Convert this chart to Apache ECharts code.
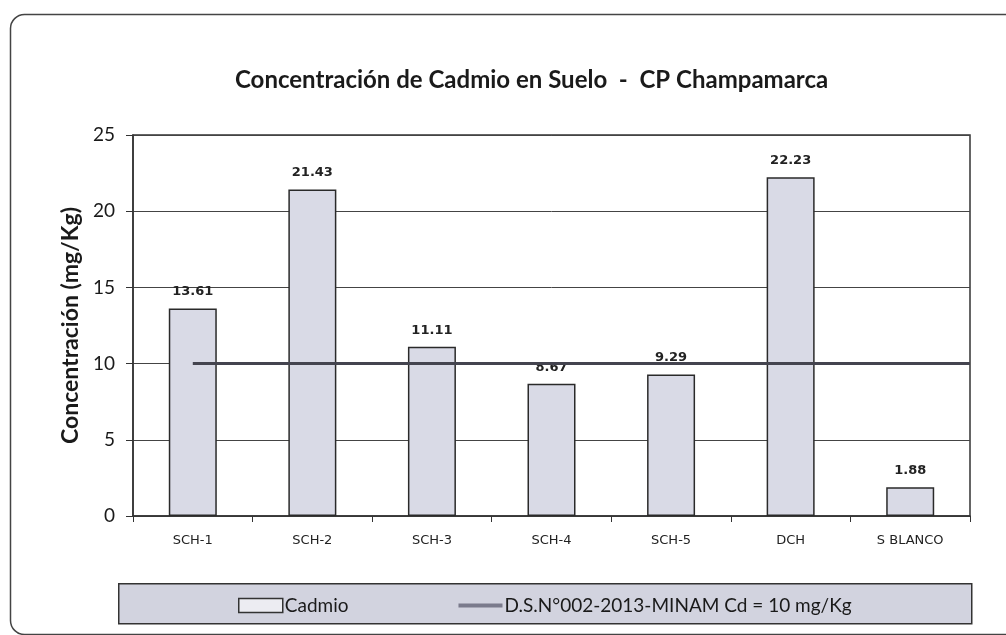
<!DOCTYPE html>
<html>
<head>
<meta charset="utf-8">
<script src="https://cdn.jsdelivr.net/npm/echarts@6/dist/echarts.min.js"></script>
<style>
  html, body { margin: 0; padding: 0; background: #fff; }
  #chart { width: 1006px; height: 635px; }
</style>
</head>
<body>
<div id="chart"></div>
<script>
// puntos de muestreo
const categories = ["SCH-1", "SCH-2", "SCH-3", "SCH-4", "SCH-5", "DCH", "S BLANCO"];
// concentración de cadmio (mg/Kg)
const cadmio = [13.61, 21.43, 11.11, 8.67, 9.29, 22.23, 1.88];
// límite D.S. N°002-2013-MINAM
const limite = 10;
const limiteTramo = [0.5, 7];
const yTicks = [0, 25, 5];

const chart = echarts.init(document.getElementById("chart"));
const option = {
  backgroundColor: "#fff",
  animation: false,
  title: {
    text: "Concentración de Cadmio en Suelo  -  CP Champamarca",
    left: 230,
    top: 63,
    textStyle: { fontFamily: "Lato", fontWeight: "bold", fontSize: 24, color: "#1a1a1a" },
  },
  graphic: [
    {
      type: "rect",
      left: 8,
      top: 12,
      shape: { width: 1010, height: 620, r: 14 },
      style: { fill: "none", stroke: "#444", lineWidth: 1.5 },
      z: -1,
    },
    {
      type: "rect",
      left: 118,
      top: 583,
      shape: { width: 853, height: 40 },
      style: { fill: "#d2d3df", stroke: "#333", lineWidth: 1.5 },
      z: -1,
    },
  ],
  legend: {
    left: 233,
    top: 591,
    itemGap: 110,
    itemWidth: 44,
    itemHeight: 14,
    textStyle: { fontFamily: "Lato", fontSize: 19, color: "#1a1a1a", padding: [0, 0, 0, -3] },
    data: [
      { name: "Cadmio", icon: "rect", itemStyle: { color: "#ececf2", borderColor: "#333", borderWidth: 1.5 } },
      { name: "D.S.N°002-2013-MINAM Cd = 10 mg/Kg", icon: "path://M0,0h44v4h-44z", itemStyle: { color: "#7a7a8c" } },
    ],
  },
  grid: { left: 133, right: 36, top: 135, bottom: 119, show: true, borderColor: "#333", borderWidth: 1.5 },
  xAxis: [
    {
      type: "category",
      data: categories,
      axisLine: { lineStyle: { color: "#333", width: 1.5 } },
      axisTick: { show: true, length: 6, lineStyle: { color: "#333" } },
      axisLabel: { margin: 18, fontFamily: "DejaVu Sans", fontSize: 13, color: "#222" },
    },
    { type: "value", min: 0, max: 7, show: false },
  ],
  yAxis: {
    type: "value",
    min: yTicks[0],
    max: yTicks[1],
    interval: yTicks[2],
    name: "Concentración (mg/Kg)",
    nameLocation: "middle",
    nameGap: 49,
    nameTextStyle: { fontFamily: "Lato", fontWeight: "bold", fontSize: 23, color: "#1a1a1a" },
    axisLine: { show: true, lineStyle: { color: "#333", width: 1.5 } },
    axisTick: { show: true, length: 7, lineStyle: { color: "#333" } },
    axisLabel: { margin: 18, fontFamily: "Lato", fontSize: 19, color: "#1a1a1a" },
    splitLine: { lineStyle: { color: "#444", width: 1 } },
  },
  series: [
    {
      name: "Cadmio",
      type: "bar",
      data: cadmio,
      barWidth: 48,
      itemStyle: { color: "#d9dae6", borderColor: "#2a2a2a", borderWidth: 1.5 },
      label: {
        show: true,
        position: "top",
        distance: 10,
        fontFamily: "DejaVu Sans",
        fontWeight: "bold",
        fontSize: 13,
        color: "#222",
        formatter: (p) => p.value.toFixed(2),
      },
    },
    {
      name: "D.S.N°002-2013-MINAM Cd = 10 mg/Kg",
      type: "line",
      xAxisIndex: 1,
      data: limiteTramo.map((x) => [x, limite]),
      symbol: "none",
      lineStyle: { color: "#44444f", width: 3 },
      itemStyle: { color: "#7a7a8c" },
      z: 5,
    },
  ],
};
chart.setOption(option);
</script>
</body>
</html>
